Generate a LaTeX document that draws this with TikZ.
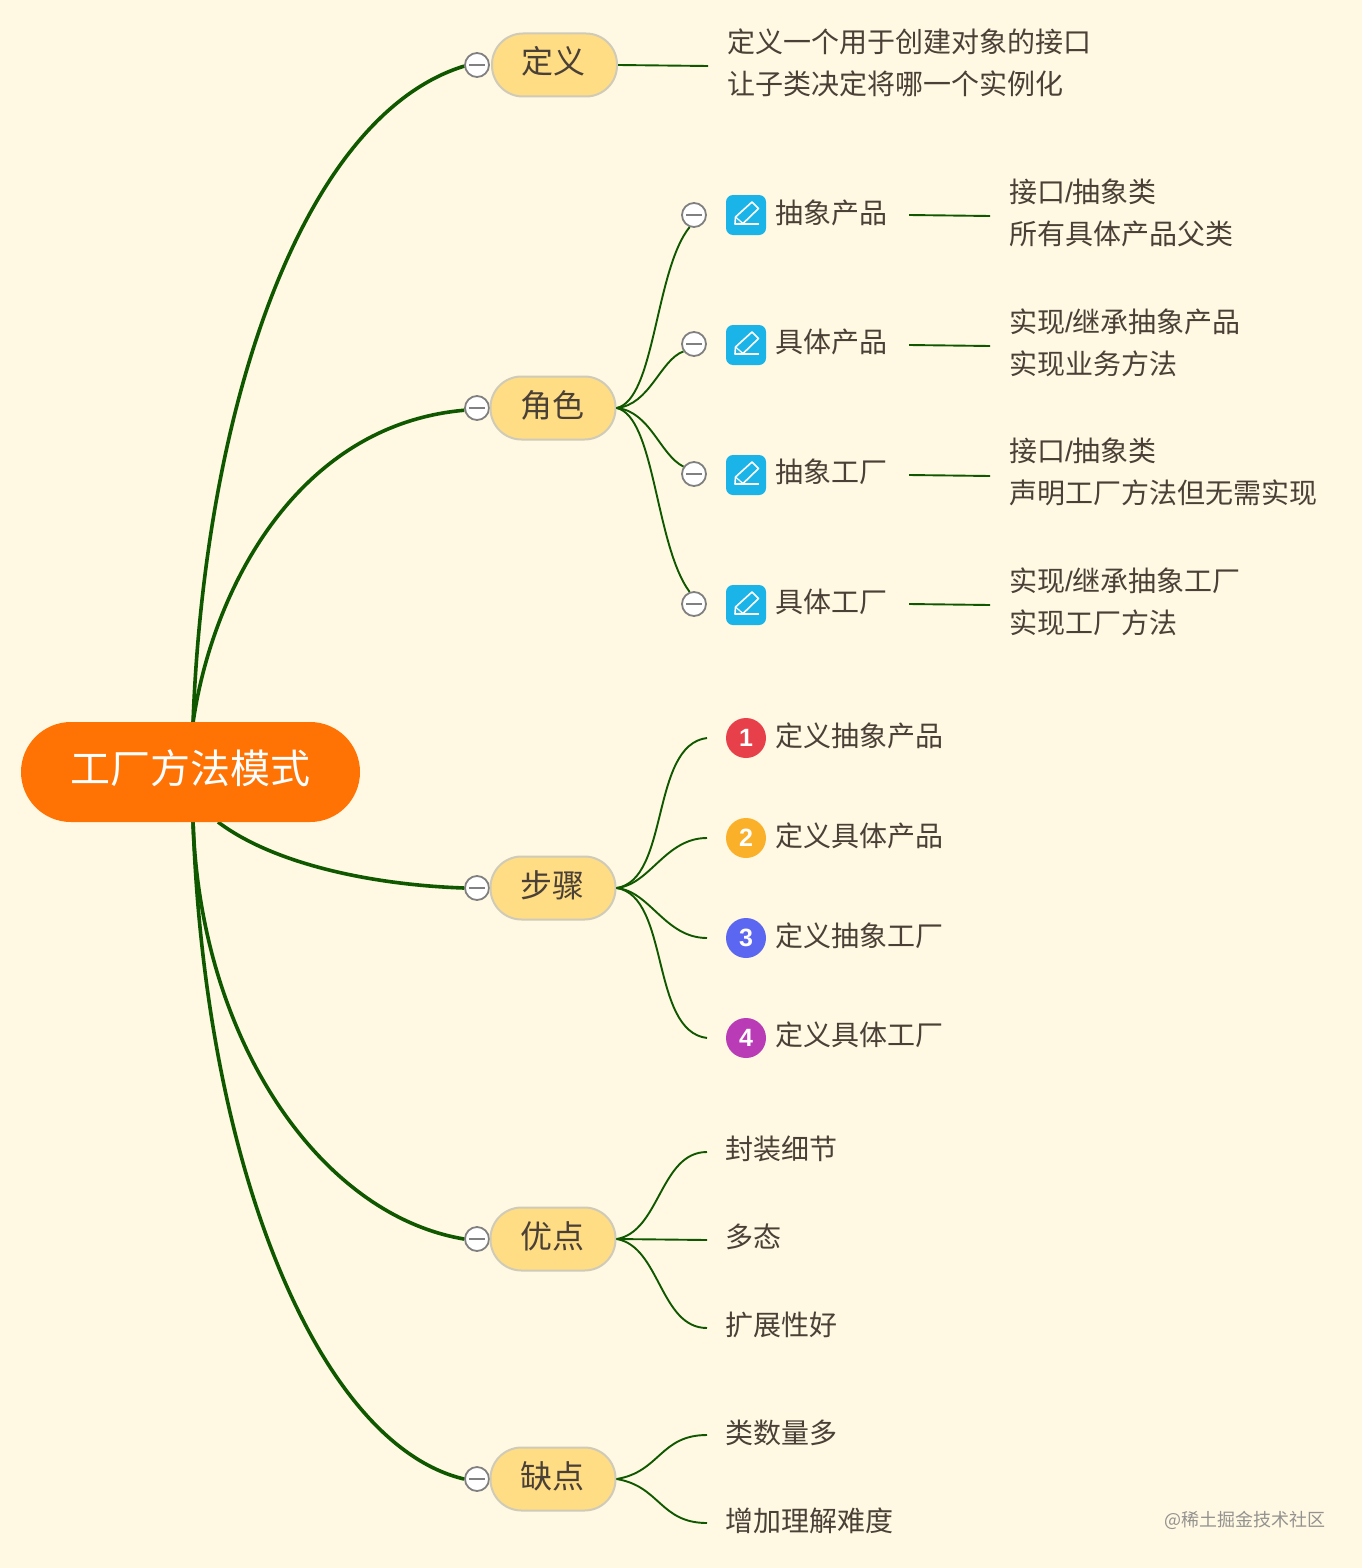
\documentclass[tikz,border=0pt]{standalone}
\usepackage{fontspec}
\setmainfont{Noto Sans CJK SC}
\newfontfamily\digitfont{Liberation Sans}
\definecolor{paper}{HTML}{FFF8E3}
\definecolor{ink}{HTML}{4A4036}
\definecolor{branch}{HTML}{105800}
\definecolor{pill}{HTML}{FFDD85}
\definecolor{pillline}{HTML}{CFCBB8}
\definecolor{rootfill}{HTML}{FF7204}
\definecolor{iconblue}{HTML}{1AB4E8}
\definecolor{stepa}{HTML}{E8404A}
\definecolor{stepb}{HTML}{FBB02A}
\definecolor{stepc}{HTML}{5B67F0}
\definecolor{stepd}{HTML}{B93BB5}
\tikzset{
  rootbox/.style={fill=rootfill,rounded corners=50pt,minimum width=339pt,minimum height=100pt,text=white,inner sep=0,text height=36pt,text depth=14pt,font=\fontsize{40pt}{48pt}\selectfont},
  topicbox/.style={draw=pillline,line width=2pt,fill=pill,rounded corners=31pt,minimum width=125pt,minimum height=63pt,text=ink,inner sep=0,text height=28pt,text depth=10pt,execute at end node=\hspace*{2pt},font=\fontsize{32pt}{38pt}\selectfont},
  foldmark/.style={circle,draw=gray,line width=1.8pt,fill=white,minimum size=24pt,inner sep=0},
  iconbox/.style={fill=iconblue,rounded corners=7pt,minimum size=40pt,inner sep=0},
  stepdot/.style={circle,minimum size=40pt,inner sep=0,text=white,font=\digitfont\bfseries\fontsize{25pt}{30pt}\selectfont},
  itemtext/.style={anchor=west,text=ink,inner sep=0,font=\fontsize{28pt}{42pt}\selectfont,align=left},
  mainline/.style={draw=branch,line width=3.6pt},
  subline/.style={draw=branch,line width=1.9pt},
  pencil/.pic={
    \draw[white,line width=1.6pt,line join=round] (-11,9) -- (-10.5,2) -- (6,-13) -- (12.5,-6.5) -- (-3,8.5) -- cycle;
    \draw[white,line width=1.6pt] (-11,9) -- (13,9);
    \draw[white,line width=1.2pt] (-10.5,2) -- (-3,8.5);
  }
}
\newcommand{\foldbar}[1]{\draw[gray,line width=2pt] ([xshift=-8pt]#1.center) -- ([xshift=8pt]#1.center);}
\newcommand{\slashmark}{{\digitfont /}}
\begin{document}
\begin{tikzpicture}[x=1pt,y=-1pt]
\fill[paper] (0,0) rectangle (1362,1568);
\coordinate (roottop) at (193,723);
\coordinate (rootbot) at (193,821);
\coordinate (rootstep) at (218,822);

\node[foldmark] (defm) at (477,65) {};
\node[foldmark] (rolem) at (477,408) {};
\node[foldmark] (stepsm) at (477,888) {};
\node[foldmark] (prosm) at (477,1239) {};
\node[foldmark] (consm) at (477,1479) {};
\foldbar{defm}
\foldbar{rolem}
\foldbar{stepsm}
\foldbar{prosm}
\foldbar{consm}

\draw[mainline] (roottop) .. controls (205,400) and (305,115) .. (defm.185);
\draw[mainline] (roottop) .. controls (212,590) and (297,425) .. (rolem.190);
\draw[mainline] (rootstep) .. controls (275,865) and (375,885) .. (stepsm.west);
\draw[mainline] (rootbot) .. controls (200,1040) and (320,1215) .. (prosm.west);
\draw[mainline] (rootbot) .. controls (205,1170) and (320,1445) .. (consm.west);

\node[rootbox] (root) at (190.5,772) {工厂方法模式};
\node[topicbox] (def) at (554.5,65) {定义};
\node[topicbox] (role) at (553,408) {角色};
\node[topicbox] (steps) at (553,888) {步骤};
\node[topicbox] (pros) at (553,1239) {优点};
\node[topicbox] (cons) at (553,1479) {缺点};

\coordinate (defend) at (708,66);
\draw[subline] (def.east) -- (defend);
\node[itemtext] (deftext) at (727.5,63) {定义一个用于创建对象的接口\\让子类决定将哪一个实例化};

\node[foldmark] (aprodm) at (694,215) {};
\node[foldmark] (cprodm) at (694,344) {};
\node[foldmark] (afacm) at (694,474) {};
\node[foldmark] (cfacm) at (694,604) {};
\foldbar{aprodm}
\foldbar{cprodm}
\foldbar{afacm}
\foldbar{cfacm}
\draw[subline] (role.east) .. controls (655,400) and (655,270) .. (aprodm.250);
\draw[subline] (role.east) .. controls (650,405) and (660,360) .. (cprodm.215);
\draw[subline] (role.east) .. controls (650,411) and (660,455) .. (afacm.145);
\draw[subline] (role.east) .. controls (655,416) and (655,545) .. (cfacm.110);

\node[iconbox] (aprodi) at (746,215) {};
\node[iconbox] (cprodi) at (746,345) {};
\node[iconbox] (afaci) at (746,475) {};
\node[iconbox] (cfaci) at (746,605) {};
\pic at (aprodi.center) {pencil};
\pic at (cprodi.center) {pencil};
\pic at (afaci.center) {pencil};
\pic at (cfaci.center) {pencil};

\node[itemtext] (aprod) at (775.5,213) {抽象产品};
\node[itemtext] (cprod) at (775.5,342) {具体产品};
\node[itemtext] (afac) at (775.5,472) {抽象工厂};
\node[itemtext] (cfac) at (775.5,602) {具体工厂};
\coordinate (aprods) at (909,215);
\coordinate (cprods) at (909,345);
\coordinate (afacs) at (909,475);
\coordinate (cfacs) at (909,604);
\coordinate (aprode) at (990,216);
\coordinate (cprode) at (990,346);
\coordinate (aface) at (990,476);
\coordinate (cface) at (990,605);
\draw[subline] (aprods) -- (aprode);
\draw[subline] (cprods) -- (cprode);
\draw[subline] (afacs) -- (aface);
\draw[subline] (cfacs) -- (cface);
\node[itemtext] (aprodt) at (1009,213) {接口\slashmark 抽象类\\所有具体产品父类};
\node[itemtext] (cprodt) at (1009,343) {实现\slashmark 继承抽象产品\\实现业务方法};
\node[itemtext] (afact) at (1009,472) {接口\slashmark 抽象类\\声明工厂方法但无需实现};
\node[itemtext] (cfact) at (1009,602) {实现\slashmark 继承抽象工厂\\实现工厂方法};

\coordinate (stepe1) at (707,738);
\coordinate (stepe2) at (707,838);
\coordinate (stepe3) at (707,938);
\coordinate (stepe4) at (707,1038);
\draw[subline] (steps.east) .. controls (670,880) and (650,745) .. (stepe1);
\draw[subline] (steps.east) .. controls (650,885) and (665,838) .. (stepe2);
\draw[subline] (steps.east) .. controls (650,891) and (665,938) .. (stepe3);
\draw[subline] (steps.east) .. controls (670,896) and (650,1031) .. (stepe4);
\node[stepdot,fill=stepa] (dot1) at (746,738) {1};
\node[stepdot,fill=stepb] (dot2) at (746,838) {2};
\node[stepdot,fill=stepc] (dot3) at (746,938) {3};
\node[stepdot,fill=stepd] (dot4) at (746,1038) {4};
\node[itemtext] (step1) at (775.5,736) {定义抽象产品};
\node[itemtext] (step2) at (775.5,836) {定义具体产品};
\node[itemtext] (step3) at (775.5,936) {定义抽象工厂};
\node[itemtext] (step4) at (775.5,1035) {定义具体工厂};

\coordinate (prose1) at (707,1152);
\coordinate (prose2) at (707,1240);
\coordinate (prose3) at (707,1328);
\draw[subline] (pros.east) .. controls (660,1232) and (660,1152) .. (prose1);
\draw[subline] (pros.east) -- (prose2);
\draw[subline] (pros.east) .. controls (660,1246) and (660,1328) .. (prose3);
\node[itemtext] (pro1) at (725.5,1149) {封装细节};
\node[itemtext] (pro2) at (725.5,1237) {多态};
\node[itemtext] (pro3) at (725.5,1325) {扩展性好};

\coordinate (conse1) at (707,1435);
\coordinate (conse2) at (707,1523);
\draw[subline] (cons.east) .. controls (660,1472) and (660,1435) .. (conse1);
\draw[subline] (cons.east) .. controls (660,1486) and (660,1523) .. (conse2);
\node[itemtext] (con1) at (725.5,1433) {类数量多};
\node[itemtext] (con2) at (725.5,1521) {增加理解难度};

\node[anchor=west,inner sep=0,text=gray!85!paper,font=\fontsize{18pt}{22pt}\selectfont] (mark) at (1164,1520) {@稀土掘金技术社区};
\end{tikzpicture}
\end{document}
